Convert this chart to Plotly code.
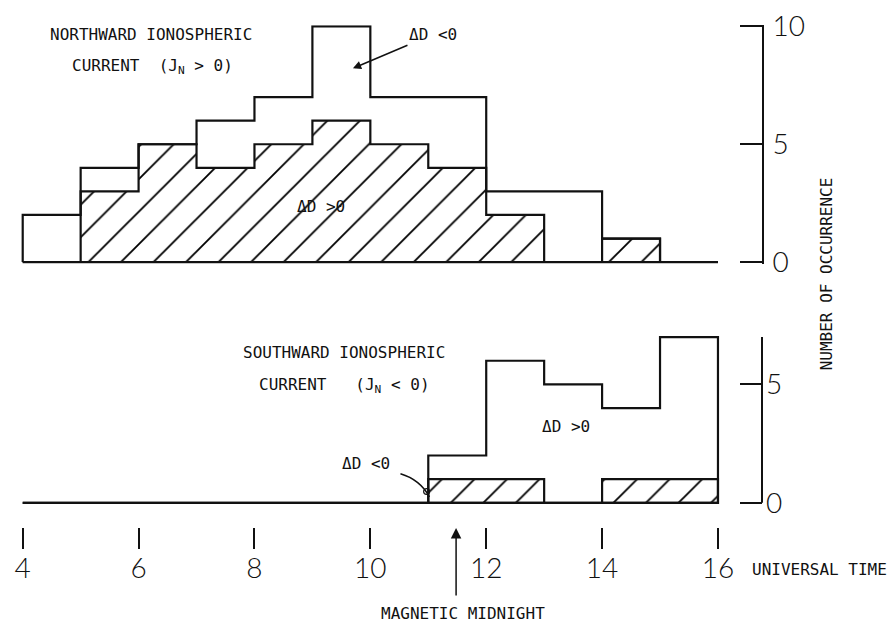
import plotly.graph_objects as go

# One-hour UT bins from 04 to 16
bin_edges = list(range(4, 17))

# Northward ionospheric current (J_N > 0): all events, and those with dD > 0
north_total = [2, 4, 5, 6, 7, 10, 7, 7, 3, 3, 1, 0]
north_pos = [0, 3, 5, 4, 5, 6, 5, 4, 2, 0, 1, 0]

# Southward ionospheric current (J_N < 0): all events, and those with dD < 0
south_total = [0, 0, 0, 0, 0, 0, 0, 2, 6, 5, 4, 7]
south_neg = [0, 0, 0, 0, 0, 0, 0, 1, 1, 0, 1, 1]

x_tick_vals = [4, 6, 8, 10, 12, 14, 16]
top_tick_vals = [0, 5, 10]
bottom_tick_vals = [0, 5]
bottom_axis_top = 7
magnetic_midnight = 11.48

INK = "#111111"
MONO = "DejaVu Sans Mono"
NUM_FONT = dict(family="Lato", size=28, color=INK, weight=300)
LABEL_FONT = dict(family=MONO, size=16, color=INK)

centers = [(lo + hi) / 2 for lo, hi in zip(bin_edges[:-1], bin_edges[1:])]


def outline(counts):
    """Closed histogram outline: steps over the bins, back along the baseline."""
    xs, ys = [bin_edges[0]], [0]
    for lo, hi, c in zip(bin_edges[:-1], bin_edges[1:], counts):
        xs += [lo, hi]
        ys += [c, c]
    xs += [bin_edges[-1], bin_edges[0]]
    ys += [0, 0]
    return xs, ys


def hatched(counts, xa, ya):
    return go.Bar(
        x=centers, y=counts, width=1, xaxis=xa, yaxis=ya,
        marker=dict(
            color="white", line=dict(width=0),
            pattern=dict(shape="/", fgcolor="black", fgopacity=1, size=23,
                         solidity=0.08, fillmode="overlay"),
        ),
        hoverinfo="skip", showlegend=False,
    )


def step(counts, xa, ya):
    xs, ys = outline(counts)
    return go.Scatter(x=xs, y=ys, mode="lines", xaxis=xa, yaxis=ya,
                      line=dict(color=INK, width=2.2), hoverinfo="skip",
                      showlegend=False)


fig = go.Figure()
fig.add_trace(hatched(north_pos, "x", "y"))
fig.add_trace(step(north_pos, "x", "y"))
fig.add_trace(step(north_total, "x", "y"))
fig.add_trace(hatched(south_neg, "x2", "y2"))
fig.add_trace(step(south_neg, "x2", "y2"))
fig.add_trace(step(south_total, "x2", "y2"))

x_range = [3.608, 16.76]
top_dom, top_rng = [0.5166, 0.9839], [-0.06, 10.05]
bot_dom, bot_rng = [0.0, 0.3752], [-1.02, 7.06]


def bot_paper(v):
    return bot_dom[0] + (v - bot_rng[0]) / (bot_rng[1] - bot_rng[0]) * (bot_dom[1] - bot_dom[0])


yaxis_common = dict(
    side="right", ticks="inside", ticklen=22, tickwidth=2, tickcolor=INK,
    showgrid=False, zeroline=False, tickfont=NUM_FONT, ticklabelstandoff=3,
)

fig.update_layout(
    width=887, height=627,
    margin=dict(l=0, r=125, t=10, b=100),
    paper_bgcolor="white", plot_bgcolor="white",
    barmode="overlay", bargap=0,
    xaxis=dict(domain=[0, 1], range=x_range, visible=False, anchor="y",
               matches="x2"),
    yaxis=dict(domain=top_dom, range=top_rng, anchor="x", tickvals=top_tick_vals,
               showline=True, linewidth=2, linecolor=INK, **yaxis_common),
    xaxis2=dict(domain=[0, 1], range=x_range, anchor="y2", tickvals=x_tick_vals,
                ticks="outside", ticklen=21, tickwidth=2, tickcolor=INK,
                showline=False, showgrid=False, zeroline=False,
                tickfont=NUM_FONT, ticklabelstandoff=-5),
    yaxis2=dict(domain=bot_dom, range=bot_rng, anchor="x2",
                tickvals=bottom_tick_vals, showline=False, **yaxis_common),
)

# Vertical axis line of the lower panel, from 0 up to its top count
fig.add_shape(type="line", xref="x2 domain", yref="paper", x0=1, x1=1,
              y0=bot_paper(0), y1=bot_paper(bottom_axis_top),
              line=dict(color=INK, width=2))

# Curved pointer to the small dD < 0 bar at 11 UT
fig.add_shape(type="path", xref="x2", yref="y2",
              path="M 10.52,1.23 Q 10.86,0.98 11.02,0.25",
              line=dict(color=INK, width=1.5))
fig.add_shape(type="circle", xref="x2", yref="y2",
              x0=10.92, x1=11.02, y0=0.36, y1=0.6,
              line=dict(color=INK, width=1.2))


def label(text, x, y, xref, yref, **kw):
    fig.add_annotation(text=text, x=x, y=y, xref=xref, yref=yref,
                       showarrow=kw.pop("showarrow", False),
                       font=kw.pop("font", LABEL_FONT),
                       xanchor=kw.pop("xanchor", "center"),
                       yanchor=kw.pop("yanchor", "middle"), **kw)


# Upper panel
label("NORTHWARD IONOSPHERIC", 6.22, 9.67, "x", "y")
label("CURRENT&nbsp;&nbsp;(J<sub>N</sub> &gt; 0)", 4.82, 8.3, "x", "y",
      xanchor="left")
label("ΔD &lt;0", 9.70, 8.22, "x", "y", showarrow=True, ax=80, ay=-34,
      arrowhead=2, arrowsize=1.1, arrowwidth=1.5, arrowcolor=INK)
label("ΔD &gt;0", 9.15, 2.36, "x", "y")

# Lower panel
label("SOUTHWARD IONOSPHERIC", 9.55, 6.35, "x2", "y2")
label("CURRENT&nbsp;&nbsp;&nbsp;(J<sub>N</sub> &lt; 0)", 8.05, 4.95, "x2", "y2",
      xanchor="left")
label("ΔD &lt;0", 9.93, 1.65, "x2", "y2")
label("ΔD &gt;0", 13.38, 3.23, "x2", "y2")

# Magnetic midnight marker below the time axis
fig.add_annotation(text="", x=magnetic_midnight, y=-0.002, xref="x2", yref="paper",
                   showarrow=True, ax=0, ay=69, arrowhead=2, arrowsize=1.4,
                   arrowwidth=1.5, arrowcolor=INK)
label("MAGNETIC MIDNIGHT", 11.60, -0.170, "x2", "paper")

label("UNIVERSAL TIME", 0.984, -0.083, "paper", "paper", xanchor="left")
label("NUMBER OF OCCURRENCE", 1.085, 0.497, "paper", "paper", textangle=-90)

fig.write_html("out.html")
